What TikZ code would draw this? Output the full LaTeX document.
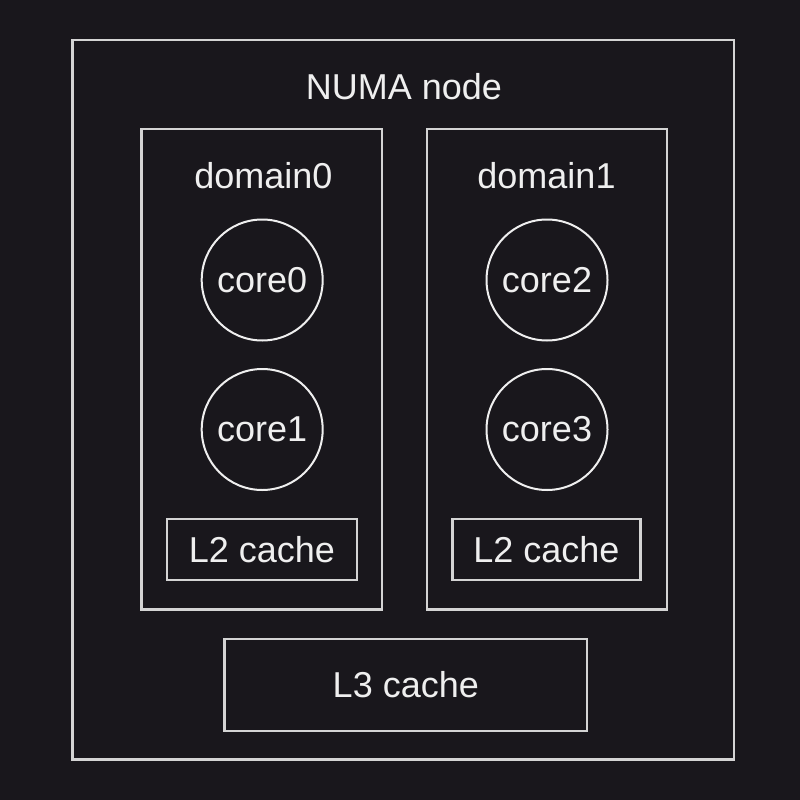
\documentclass[tikz,border=0pt]{standalone}
\usepackage{fontspec}
\setmainfont{Liberation Sans}
\definecolor{bg}{HTML}{19171C}
\definecolor{edge}{HTML}{D4D4D4}
\definecolor{ink}{HTML}{EFEFEF}
\begin{document}
\begin{tikzpicture}[x=1pt,y=-1pt,
  box/.style={draw=edge,line width=2.4pt,rectangle,inner sep=0pt},
  corec/.style={draw=ink,line width=2pt,circle,minimum size=121pt,inner sep=0pt,text=ink,font=\fontsize{36}{43}\selectfont},
  cachebox/.style={box,text=ink,font=\fontsize{36}{43}\selectfont},
  lbl/.style={text=ink,font=\fontsize{36}{43}\selectfont,inner sep=0pt,anchor=base}]
\fill[bg] (0,0) rectangle (800,800);
\useasboundingbox (0,0) rectangle (800,800);
% outer NUMA node
\node[box,minimum width=661.5pt,minimum height=719.5pt] (numa) at (403.25,399.75) {};
\node[lbl] (numalbl) at (404,99) {NUMA node};
% domains
\node[box,minimum width=240.5pt,minimum height=480.5pt] (dom0) at (261.75,369.25) {};
\node[box,minimum width=240.5pt,minimum height=480.5pt] (dom1) at (547,369.25) {};
\node[lbl] (dom0lbl) at (263.5,188) {domain0};
\node[lbl] (dom1lbl) at (546.5,188) {domain1};
% cores
\node[corec] (core0) at (262.2,280) {core0};
\node[corec] (core1) at (262.2,429.5) {core1};
\node[corec] (core2) at (547,280) {core2};
\node[corec] (core3) at (547,429.5) {core3};
% L2 caches
\node[cachebox,minimum width=189.5pt,minimum height=61pt] (l2a) at (262,549.5) {L2 cache};
\node[cachebox,minimum width=188pt,minimum height=61pt] (l2b) at (546.5,549.5) {L2 cache};
% L3 cache
\node[cachebox,minimum width=362.5pt,minimum height=91.5pt] (l3) at (405.8,685) {L3 cache};
\end{tikzpicture}
\end{document}
